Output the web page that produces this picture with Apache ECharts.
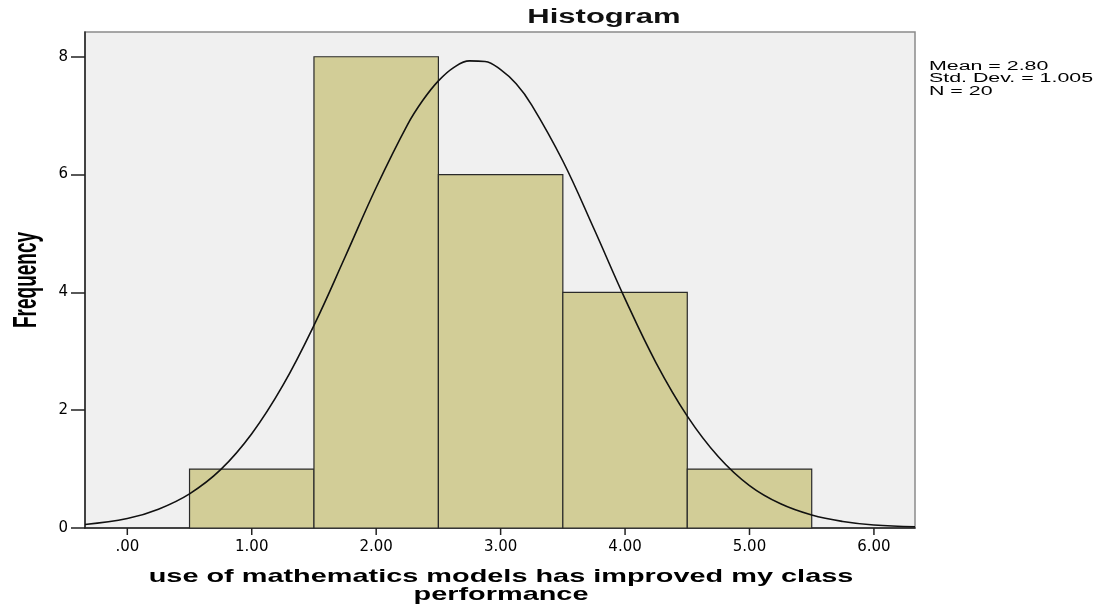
<!DOCTYPE html>
<html>
<head>
<meta charset="utf-8">
<script src="https://cdn.jsdelivr.net/npm/echarts@6/dist/echarts.min.js"></script>
<style>
  html, body { margin: 0; padding: 0; background: #fff; }
  #chart { width: 1101px; height: 607px; }
</style>
</head>
<body>
<div id="chart"></div>
<script>
// histogram bins (edges) and counts
const binStart = [0.5, 1.5, 2.5, 3.5, 4.5];
const binEnd = [1.5, 2.5, 3.5, 4.5, 5.5];
const freq = [1, 8, 6, 4, 1];

// normal curve
const curveX = [-0.34, 0, 0.25, 0.5, 0.75, 1, 1.25, 1.5, 1.75, 2, 2.25, 2.375, 2.5, 2.625, 2.75, 2.875, 3, 3.125, 3.25, 3.5, 3.75, 4, 4.25, 4.5, 4.75, 5, 5.25, 5.5, 5.75, 6, 6.33];
const curveY = [0.06, 0.16, 0.32, 0.58, 0.99, 1.6, 2.42, 3.44, 4.6, 5.78, 6.84, 7.26, 7.59, 7.82, 7.93, 7.92, 7.78, 7.54, 7.18, 6.23, 5.08, 3.89, 2.8, 1.9, 1.21, 0.72, 0.41, 0.22, 0.11, 0.05, 0.02];

const xTicks = [0, 1, 2, 3, 4, 5, 6];
const yTicks = [0, 2, 4, 6, 8];
const statsText = ['Mean = 2.80', 'Std. Dev. = 1.005', 'N = 20'];
const xTitle = ['use of mathematics models has improved my class', 'performance'];

const chart = echarts.init(document.getElementById('chart'));

const barData = freq.map((f, i) => [binStart[i], binEnd[i], f]);
const curveData = curveX.map((x, i) => [x, curveY[i]]);

function renderBar(params, api) {
  const p0 = api.coord([api.value(0), 0]);
  const p1 = api.coord([api.value(1), api.value(2)]);
  return {
    type: 'rect',
    shape: { x: p0[0], y: p1[1], width: p1[0] - p0[0], height: p0[1] - p1[1] },
    style: { fill: '#d2cd97', stroke: '#2a2a2a', lineWidth: 1.2 }
  };
}

// x ticks hang below the axis line
function renderTick(params, api) {
  const p = api.coord([api.value(0), api.value(1)]);
  return {
    type: 'line',
    shape: { x1: p[0], y1: p[1], x2: p[0], y2: p[1] + 7 },
    style: { stroke: '#222', lineWidth: 1.5 }
  };
}

const sans = 'Liberation Sans, Arial, sans-serif';

chart.setOption({
  animation: false,
  backgroundColor: '#fff',
  textStyle: { fontFamily: sans },
  grid: {
    left: 85, right: 186, top: 32, bottom: 79,
    show: true, backgroundColor: '#f0f0f0', borderColor: '#8a8a8a', borderWidth: 1.5
  },
  graphic: [
    {
      // title (the picture is stretched sideways, so the text is too)
      type: 'text', x: 604, y: 17, scaleX: 1.55,
      style: { text: 'Histogram', fontSize: 20, fontWeight: 'bold', fill: '#111', fontFamily: sans, textAlign: 'center', textVerticalAlign: 'middle' }
    },
    {
      type: 'text', x: 929, y: 60, scaleX: 1.78,
      style: { text: statsText.join('\n'), fontSize: 12, lineHeight: 12.5, fill: '#000', fontFamily: sans }
    },
    {
      type: 'text', x: 27, y: 280, rotation: Math.PI / 2, scaleY: 1.7,
      style: { text: 'Frequency', fontSize: 19, fontWeight: 'bold', fill: '#000', fontFamily: sans, textAlign: 'center', textVerticalAlign: 'middle' }
    },
    {
      type: 'text', x: 501, y: 586, scaleX: 1.52,
      style: { text: xTitle.join('\n'), fontSize: 19, lineHeight: 18, fontWeight: 'bold', fill: '#000', fontFamily: sans, textAlign: 'center', textVerticalAlign: 'middle' }
    }
  ],
  xAxis: {
    type: 'value',
    min: -0.34, max: 6.33,
    splitLine: { show: false },
    axisLine: { show: true, onZero: false, lineStyle: { color: '#222', width: 1.5 } },
    axisTick: { show: false },
    axisLabel: {
      customValues: xTicks, margin: 12, fontSize: 15, color: '#000', fontFamily: 'DejaVu Sans, sans-serif',
      formatter: v => (v === 0 ? '.00' : v.toFixed(2))
    }
  },
  yAxis: {
    type: 'value',
    min: 0, max: 8.42,
    splitLine: { show: false },
    axisLine: { show: true, onZero: false, lineStyle: { color: '#222', width: 1.5 } },
    axisTick: { show: true, length: 14, customValues: yTicks, lineStyle: { color: '#222', width: 1.5 } },
    axisLabel: { customValues: yTicks, margin: 17, fontSize: 15, color: '#000', fontFamily: 'DejaVu Sans, sans-serif' }
  },
  series: [
    {
      type: 'custom',
      renderItem: renderBar,
      encode: { x: [0, 1], y: 2 },
      data: barData,
      z: 2
    },
    {
      type: 'line',
      data: curveData,
      smooth: 0.4,
      showSymbol: false,
      lineStyle: { color: '#111', width: 1.6 },
      z: 3
    },
    {
      type: 'custom',
      renderItem: renderTick,
      clip: false,
      silent: true,
      encode: { x: 0, y: 1 },
      data: xTicks.map(v => [v, 0]),
      z: 4
    }
  ]
});
</script>
</body>
</html>
